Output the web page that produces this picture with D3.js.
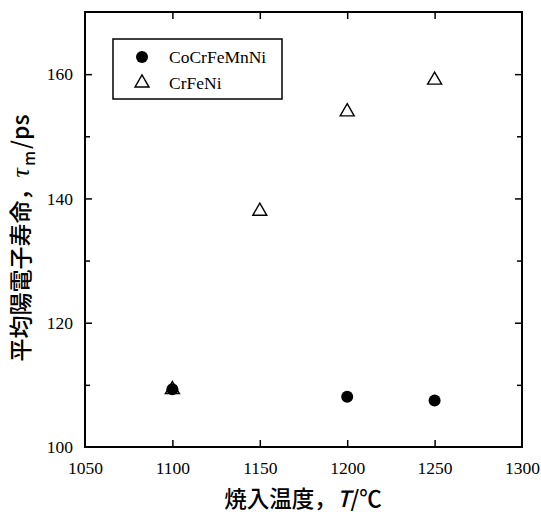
<!DOCTYPE html>
<html><head><meta charset="utf-8">
<script src="https://cdn.jsdelivr.net/npm/d3@7"></script>
<style>body{margin:0;background:#fff} svg text.tk{font-family:'Liberation Serif','DejaVu Serif',serif !important;font-size:17.5px !important}</style>
</head><body>
<script>
const seriesNames = ["CoCrFeMnNi", "CrFeNi"];
const tempCoCrFeMnNi = [1100, 1200, 1250];
const tauCoCrFeMnNi = [109.3, 108.1, 107.5];
const tempCrFeNi = [1100, 1150, 1200, 1250];
const tauCrFeNi = [109.4, 138.1, 154.1, 159.2];
const xTicks = [1050, 1100, 1150, 1200, 1250, 1300];
const yTicks = [100, 120, 140, 160];
const yMinorTicks = [110, 130, 150];

const W = 541, H = 512;
const m = {l: 85, r: 19, t: 12, b: 65};
const serif = "'Liberation Serif','DejaVu Serif',serif";
const cjk = "'Noto Sans CJK JP','Noto Sans',sans-serif";
const svg = d3.select("body").append("svg").attr("width", W).attr("height", H).style("font-family", serif);
const x = d3.scaleLinear().domain([1050, 1300]).range([m.l, W - m.r]);
const y = d3.scaleLinear().domain([100, 170]).range([H - m.b, m.t]);

// axes (inward ticks)
const gx = svg.append("g").attr("transform", `translate(0,${H - m.b})`)
  .call(d3.axisBottom(x).tickValues(xTicks).tickSizeInner(-7).tickSizeOuter(0).tickPadding(15).tickFormat(d3.format("d")));
const gxt = svg.append("g").attr("transform", `translate(0,${m.t})`)
  .call(d3.axisTop(x).tickValues(xTicks).tickSizeInner(-7).tickSizeOuter(0).tickFormat(""));
const gy = svg.append("g").attr("transform", `translate(${m.l},0)`)
  .call(d3.axisLeft(y).tickValues(yTicks).tickSizeInner(-7).tickSizeOuter(0).tickPadding(12).tickFormat(d3.format("d")));
const gym = svg.append("g").attr("transform", `translate(${m.l},0)`)
  .call(d3.axisLeft(y).tickValues(yMinorTicks).tickSizeInner(-5).tickSizeOuter(0).tickFormat(""));
const gyr = svg.append("g").attr("transform", `translate(${W - m.r},0)`)
  .call(d3.axisRight(y).tickValues(yTicks).tickSizeInner(-7).tickSizeOuter(0).tickFormat(""));
const gyrm = svg.append("g").attr("transform", `translate(${W - m.r},0)`)
  .call(d3.axisRight(y).tickValues(yMinorTicks).tickSizeInner(-5).tickSizeOuter(0).tickFormat(""));
[gx, gxt, gy, gym, gyr, gyrm].forEach(g => {
  g.attr("font-family", null).attr("font-size", null);
  g.select(".domain").remove();
  g.selectAll("line").attr("stroke", "#000").attr("stroke-width", 1.5);
  g.selectAll("text").attr("class", "tk").attr("font-family", serif).attr("font-size", 17.5).attr("fill", "#000");
});
gx.selectAll(".tick line").filter(d => d === 1050 || d === 1300).remove();
gxt.selectAll(".tick line").filter(d => d === 1050 || d === 1300).remove();
gy.selectAll(".tick line").filter(d => d === 100).remove();
gyr.selectAll(".tick line").filter(d => d === 100).remove();

svg.append("rect").attr("x", m.l).attr("y", m.t).attr("width", W - m.l - m.r).attr("height", H - m.t - m.b)
  .attr("fill", "none").attr("stroke", "#000").attr("stroke-width", 2);

// data
const tri = d3.symbol().type(d3.symbolTriangle).size(85);
svg.append("g").selectAll("circle").data(tempCoCrFeMnNi.map((t, i) => [t, tauCoCrFeMnNi[i]]))
  .join("circle").attr("cx", d => x(d[0])).attr("cy", d => y(d[1])).attr("r", 6).attr("fill", "#000");
svg.append("g").selectAll("path").data(tempCrFeNi.map((t, i) => [t, tauCrFeNi[i]]))
  .join("path").attr("d", tri).attr("transform", d => `translate(${x(d[0])},${y(d[1]) + 1})`)
  .attr("fill", "none").attr("stroke", "#000").attr("stroke-width", 1.4);

// legend
const lg = svg.append("g");
lg.append("rect").attr("x", 113).attr("y", 39).attr("width", 169).attr("height", 60)
  .attr("fill", "#fff").attr("stroke", "#000").attr("stroke-width", 1.5);
lg.append("circle").attr("cx", 142).attr("cy", 57).attr("r", 6).attr("fill", "#000");
lg.append("path").attr("d", tri).attr("transform", "translate(142,83)").attr("fill", "none").attr("stroke", "#000").attr("stroke-width", 1.4);
lg.selectAll("text.lt").data(seriesNames).join("text").attr("class", "lt")
  .attr("x", 169).attr("y", (d, i) => 63 + i * 26).text(d => d)
  .style("font-family", serif).style("font-size", "17.5px").attr("fill", "#000");

// axis titles
const xt = svg.append("text").attr("x", 303).attr("y", 507).attr("text-anchor", "middle")
  .style("font-family", cjk).attr("font-size", 22.5).attr("font-weight", 500).attr("fill", "#000");
xt.append("tspan").text("焼入温度，");
xt.append("tspan").attr("font-style", "italic").text("T");
xt.append("tspan").text("/℃");

const yt = svg.append("text").attr("transform", "translate(29,238) rotate(-90)").attr("text-anchor", "middle")
  .style("font-family", cjk).attr("font-size", 23).attr("font-weight", 500).attr("fill", "#000");
yt.append("tspan").text("平均陽電子寿命，");
yt.append("tspan").attr("font-style", "italic").style("font-family", serif).attr("font-size", 26).text("τ");
yt.append("tspan").attr("font-size", 16).attr("dy", 6).attr("dx", 2).text("m");
yt.append("tspan").attr("dy", -6).attr("dx", 2).text("/ps");
</script>
</body></html>
